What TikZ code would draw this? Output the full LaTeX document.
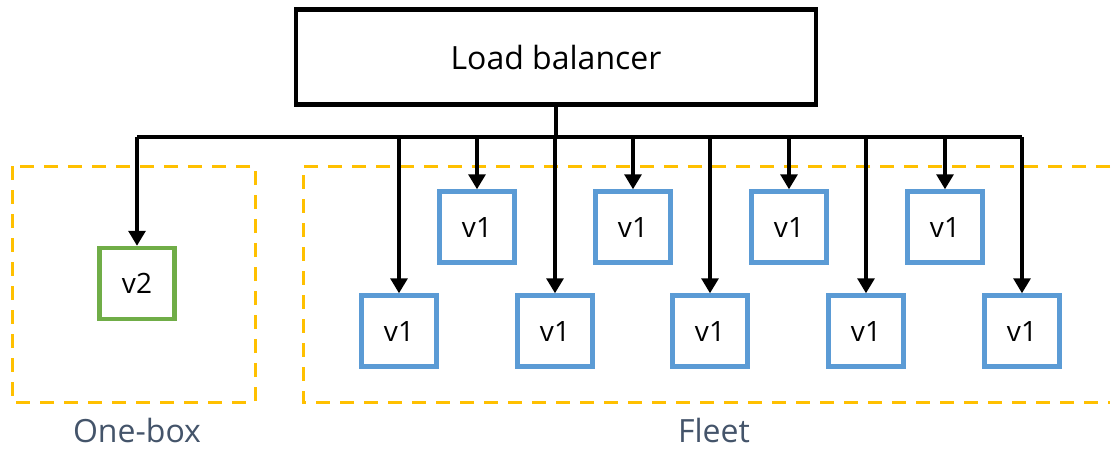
\documentclass[tikz,border=0pt]{standalone}
\usepackage{fontspec}
\setmainfont{Open Sans}
\usetikzlibrary{arrows.meta}
\definecolor{vblue}{HTML}{5B9BD5}
\definecolor{vgreen}{HTML}{70AD47}
\definecolor{zone}{HTML}{FFC000}
\definecolor{labelc}{HTML}{44546A}
\tikzset{
  lbbox/.style={draw=black, line width=4.5pt, minimum width=520pt, minimum height=95pt, inner sep=0pt, font=\fontsize{32}{36}\selectfont},
  vbox/.style={draw=vblue, line width=4.5pt, minimum width=75pt, minimum height=71pt, inner sep=0pt, font=\fontsize{28}{32}\selectfont},
  v2box/.style={vbox, draw=vgreen},
  zonebox/.style={draw=zone, line width=3pt, dash pattern=on 14pt off 10pt},
  zonelabel/.style={text=labelc, anchor=base, font=\fontsize{32}{36}\selectfont, inner sep=0pt},
  bus/.style={draw=black, line width=3.2pt},
  arr/.style={bus, -{Triangle[width=17pt,length=15pt]}},
}
\begin{document}
\begin{tikzpicture}[x=1pt,y=-1pt]
\useasboundingbox (0,0) rectangle (1113,448);
% zones
\draw[zonebox] (12,166) rectangle (255,402);
\draw[zonebox] (1110,166) -- (303,166) -- (303,402) -- (1110,402);
\node[zonelabel] (onebox) at (137,442) {One-box};
\node[zonelabel] (fleet) at (714,442) {Fleet};
% load balancer
\node[lbbox] (lb) at (556,57) {Load balancer};
% boxes
\node[v2box] (v2) at (137,283.5) {v2};
\node[vbox] (b1) at (399,331) {v1};
\node[vbox] (b2) at (555,331) {v1};
\node[vbox] (b3) at (710,331) {v1};
\node[vbox] (b4) at (866,331) {v1};
\node[vbox] (b5) at (1022,331) {v1};
\node[vbox] (t1) at (477,227) {v1};
\node[vbox] (t2) at (633,227) {v1};
\node[vbox] (t3) at (789,227) {v1};
\node[vbox] (t4) at (945,227) {v1};
% bus
\coordinate (busL) at (137,137);
\coordinate (busR) at (1022,137);
\draw[bus] (lb.south) |- (busL);
\draw[bus] (lb.south) |- (busR);
\foreach \n in {v2,b1,b2,b3,b4,b5,t1,t2,t3,t4}{
  \draw[arr] (\n.north |- busL) -- (\n.north);
}
\end{tikzpicture}
\end{document}
